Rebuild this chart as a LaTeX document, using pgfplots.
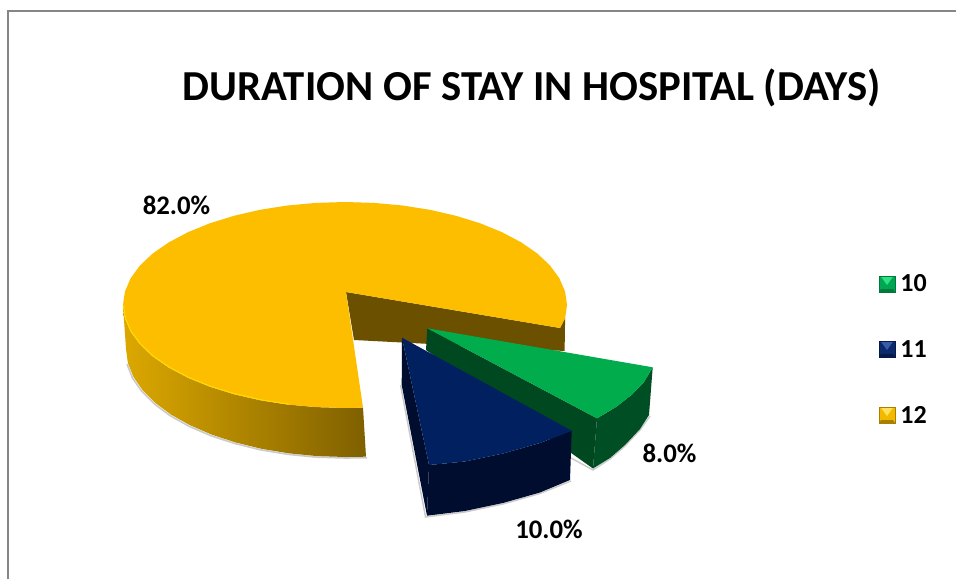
\documentclass[border=0pt]{standalone}
\usepackage{fontspec}
\setmainfont{Carlito}
\usepackage{pgfplots}
\pgfplotsset{compat=1.18}
\definecolor{goldtop}{HTML}{FDBE00}
\definecolor{goldrim}{HTML}{FFD900}
\definecolor{goldwall}{HTML}{6B5000}
\definecolor{goldsideL}{HTML}{DCA800}
\definecolor{goldsideM}{HTML}{BC8F00}
\definecolor{goldsideR}{HTML}{7F6000}
\definecolor{greentop}{HTML}{00AC4C}
\definecolor{greenside}{HTML}{004F24}
\definecolor{greenwall}{HTML}{00481F}
\definecolor{bluetop}{HTML}{002060}
\definecolor{blueside}{HTML}{000D2E}
\definecolor{frameline}{HTML}{868686}
\definecolor{softshadow}{HTML}{A8A8A8}
\definecolor{keygreen}{HTML}{00A651}
\definecolor{keygreenlight}{HTML}{2FE080}
\definecolor{keygreendark}{HTML}{007A3C}
\definecolor{keyblue}{HTML}{0B2A6B}
\definecolor{keybluelight}{HTML}{3A5CA8}
\definecolor{keybluedark}{HTML}{061A47}
\definecolor{keygold}{HTML}{F5B800}
\definecolor{keygoldlight}{HTML}{FFE25A}
\definecolor{keygolddark}{HTML}{A87F00}
% one beveled legend key: top, centre, bottom band and bottom y of the square, then a colour stem
\newcommand{\legendkey}[5]{%
  \addplot[draw=none,fill=#5] coordinates {(879,#1) (895,#1) (895,#4) (879,#4)} --cycle;
  \addplot[draw=none,fill=#5light] coordinates {(880.5,#1) (893.5,#1) (887,#2) } --cycle;
  \addplot[draw=none,fill=#5dark] coordinates {(879,#4) (895,#4) (893,#3) (881,#3)} --cycle;
  \addplot[draw=#5dark,line width=0.8pt] coordinates {(879,#1) (895,#1) (895,#4) (879,#4)} --cycle;
}
\begin{document}
\begin{tikzpicture}
\begin{axis}[
  width=957pt, height=580pt, scale only axis, hide axis,
  xmin=0, xmax=957, ymin=0, ymax=580, y dir=reverse,
  no markers]
% white chart area, which also fixes the size of the page
\addplot[draw=none,fill=white] coordinates {(0,0) (957,0) (957,580) (0,580)} --cycle;
% chart frame
\addplot[frameline,line width=2pt] coordinates {(8,579) (8,11) (956,11)};

% soft shadows beneath the slices
\addplot[softshadow,line width=1.6pt,opacity=.6] coordinates {(127,364.1) (132.5,378) (141.7,391.3) (154.4,404) (170.3,415.8) (189.3,426.4) (210.9,435.7) (234.7,443.5) (260.5,449.8) (287.7,454.3) (315.9,457.1) (345.5,458) (367,457.7)};
\addplot[softshadow,line width=1.4pt,opacity=.6] coordinates {(400.5,385) (425.5,517) (465,512) (503,504) (540,493.5) (571,481)};
\addplot[softshadow,line width=1.4pt,opacity=.6] coordinates {(571,458) (593,470) (610,459) (625,446) (640,430) (650,416)};

% 82.0%: inner wall behind the cut
\addplot[draw=none,fill=goldwall] coordinates {(346,292) (560,328) (565.1,318) (564.6,351) (354,340)} --cycle;
% 82.0%: outer side
\addplot[draw=none,left color=goldsideL,middle color=goldsideM,right color=goldsideR] coordinates {
 (123,305) (124.9,318.4) (130.6,331.7) (139.9,344.4) (152.7,356.5) (168.9,367.7) (188,377.8) (209.8,386.7) (234,394.2) (260,400.2) (287.5,404.5) (316,407.1) (345,408) (363,407.6)
 (366,456.7) (345.5,457) (316.9,456.1) (288.7,453.3) (261.5,448.8) (235.7,442.5) (211.9,434.7) (190.3,425.4) (171.3,414.8) (155.4,403) (142.7,390.3) (133.5,377) (127.9,363.1) (126,349)} --cycle;
% 82.0%: top face
\addplot[draw=none,fill=goldtop] coordinates {
 (346,292) (560,328) (565.1,318.4) (567,305) (565.1,291.6) (559.4,278.3) (550.1,265.6) (537.3,253.5) (521.1,242.3) (502,232.2) (480.2,223.3) (456,215.8) (430,209.8) (402.5,205.5) (374,202.9) (345,202) (316,202.9) (287.5,205.5) (260,209.8) (234,215.8) (209.8,223.3) (188,232.2) (168.9,242.3) (152.7,253.5) (139.9,265.6) (130.6,278.3) (124.9,291.6) (123,305) (124.9,318.4) (130.6,331.7) (139.9,344.4) (152.7,356.5) (168.9,367.7) (188,377.8) (209.8,386.7) (234,394.2) (260,400.2) (287.5,404.5) (316,407.1) (345,408) (363,407.6)} --cycle;
% 82.0%: bright rim along the front edge
\addplot[goldrim,line width=1pt] coordinates {(123.5,305) (125.4,318) (131.1,331.2) (140.4,343.9) (153.2,356) (169.4,367.2) (188.5,377.3) (210.3,386.2) (234.5,393.7) (260.5,399.7) (288,404)};

% 8.0%: cut wall, outer side, top face
\addplot[draw=none,fill=greenwall] coordinates {(427.3,328.3) (597,418.3) (593,468.5) (426,350)} --cycle;
\addplot[draw=none,fill=greenside] coordinates {(597,418.3) (616,407) (632,394.5) (644,382) (652.7,367.3) (649,415) (640,429) (625,445) (610,458) (593,468.5)} --cycle;
\addplot[draw=none,fill=greentop] coordinates {(427.3,328.3) (652.7,367.3) (644,382) (632,394.5) (616,407) (597,418.3)} --cycle;

% 10.0%: cut wall, outer side, top face
\addplot[draw=none,fill=blueside] coordinates {(402,337.7) (429,465) (427,515.7) (401.7,385)} --cycle;
\addplot[draw=none,fill=blueside] coordinates {(429,465) (465,461.5) (503,453.5) (540,443) (571.7,430.7) (570,480) (540,492.5) (503,503) (465,511) (427,515.7)} --cycle;
\addplot[draw=none,fill=bluetop] coordinates {(402,337.7) (571.7,430.7) (540,443) (503,453.5) (465,461.5) (429,465)} --cycle;

% legend keys
\legendkey{276}{285}{289}{292}{keygreen}
\legendkey{341}{350}{354}{357}{keyblue}
\legendkey{407}{416}{420}{423}{keygold}

% title, data labels and legend entries
\node[font=\fontsize{42.7}{47}\selectfont\bfseries,anchor=center] at (axis cs:531.5,88) {DURATION OF STAY IN HOSPITAL (DAYS)};
\node[font=\fontsize{26.8}{30}\selectfont\bfseries] at (axis cs:176.5,205) {82.0\%};
\node[font=\fontsize{26.8}{30}\selectfont\bfseries] at (axis cs:669.5,453) {8.0\%};
\node[font=\fontsize{26.8}{30}\selectfont\bfseries] at (axis cs:549,529) {10.0\%};
\node[font=\fontsize{26}{30}\selectfont\bfseries] at (axis cs:913.5,283) {10};
\node[font=\fontsize{26}{30}\selectfont\bfseries] at (axis cs:913.5,349) {11};
\node[font=\fontsize{26}{30}\selectfont\bfseries] at (axis cs:913.5,415) {12};
\end{axis}
\end{tikzpicture}
\end{document}
